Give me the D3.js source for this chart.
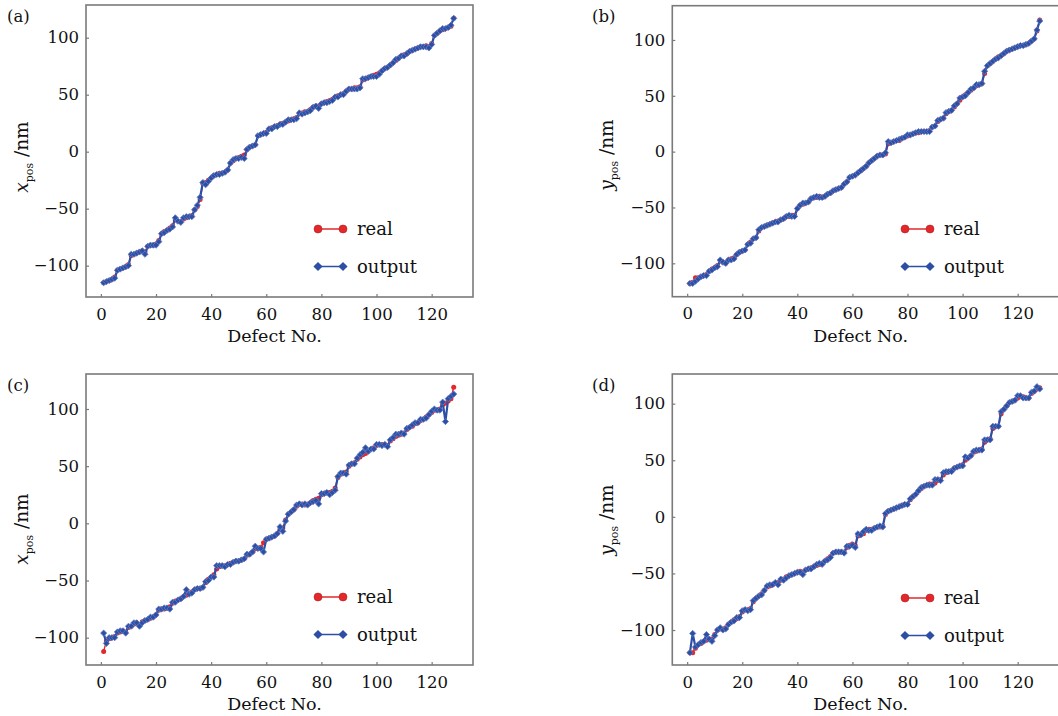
<!DOCTYPE html>
<html>
<head>
<meta charset="utf-8">
<script src="https://cdn.jsdelivr.net/npm/d3@7"></script>
<style>
  body { margin: 0; background: #fff; }
  svg { display: block; }
  text { font-family: "DejaVu Serif", serif; fill: #111; }
</style>
</head>
<body>
<svg width="1058" height="716"></svg>
<script>
// tick values
const xTicks = [0, 20, 40, 60, 80, 100, 120];
const yTicks = [-100, -50, 0, 50, 100];
const panelNames = ['(a)', '(b)', '(c)', '(d)'];
const seriesNames = ['real', 'output'];

// (a) x position
const realA = [-115,-114,-113,-112,-110,-104,-103,-102,-101,-99,-91,-90,-89,-88,-87,-88,-83,-82,-82,-81,
  -78,-72,-70,-69,-67,-65,-60,-61,-61,-59,-58,-57,-56,-51,-48,-42,-28,-27,-25,-23,
  -21,-20,-19,-19,-18,-16,-10,-8,-6,-5,-4,-3,2,4,5,6,14,15,16,17,
  20,21,22,23,24,25,26,27,28,29,30,33,34,35,35,37,39,40,40,42,
  43,44,45,46,48,49,50,51,53,55,55,56,56,57,63,64,65,66,67,68,
  69,71,73,74,76,78,80,82,84,85,86,88,89,90,91,92,92,93,92,95,
  102,104,106,107,108,109,110,117];
const outA = [-115,-114,-113,-112,-111,-104,-103,-102,-101,-100,-90,-90,-89,-88,-87,-90,-83,-82,-82,-82,
  -79,-72,-71,-69,-68,-66,-58,-61,-62,-58,-57,-57,-57,-51,-47,-40,-27,-29,-26,-23,
  -21,-20,-20,-19,-18,-16,-10,-7,-6,-6,-5,-6,2,4,5,6,14,15,16,16,
  20,20,22,22,24,24,26,28,28,28,29,34,33,34,35,36,39,40,38,42,
  43,43,44,45,48,48,50,50,53,55,55,55,55,56,64,64,65,66,66,66,
  68,71,73,74,76,78,81,82,84,84,86,88,89,90,91,92,92,92,91,94,
  102,104,106,108,108,109,111,117];

// (b) y position
const realB = [-118,-117,-113,-113,-112,-111,-110,-107,-105,-104,-102,-98,-99,-100,-97,-96,-95,-92,-90,-89,
  -88,-83,-81,-78,-77,-71,-68,-67,-66,-65,-64,-63,-62,-61,-60,-58,-58,-57,-57,-51,
  -48,-47,-46,-45,-42,-41,-41,-40,-41,-40,-38,-37,-35,-34,-33,-32,-29,-27,-23,-22,
  -21,-19,-17,-15,-13,-10,-8,-6,-4,-3,-3,-2,7,8,9,10,10,12,13,14,
  15,16,17,17,18,18,18,19,22,23,27,29,30,34,36,37,40,43,46,49,
  51,53,55,57,59,60,61,70,77,79,81,83,85,86,88,90,91,92,93,94,
  95,95,96,97,99,101,108,118];
const outB = [-118,-118,-116,-114,-112,-111,-111,-107,-106,-104,-103,-97,-99,-100,-97,-97,-96,-92,-90,-89,
  -88,-83,-82,-78,-77,-70,-68,-67,-66,-65,-64,-63,-63,-61,-60,-58,-57,-58,-58,-51,
  -48,-46,-46,-45,-42,-41,-40,-41,-41,-40,-38,-37,-35,-34,-33,-32,-29,-27,-23,-22,
  -21,-19,-17,-15,-13,-10,-8,-6,-4,-3,-3,-1,9,8,9,10,11,12,13,15,
  15,16,17,18,18,18,18,18,22,23,28,29,30,35,36,37,41,43,48,49,
  50,53,56,57,60,60,61,72,77,79,81,83,84,86,88,90,91,92,93,94,
  95,95,96,97,99,101,109,117];

// (c) x position
const realC = [-112,-103,-101,-100,-99,-96,-95,-94,-95,-91,-90,-88,-87,-89,-86,-85,-84,-83,-82,-80,
  -76,-75,-75,-74,-73,-70,-68,-67,-66,-64,-63,-61,-60,-58,-57,-57,-56,-52,-49,-47,
  -45,-40,-38,-37,-37,-36,-35,-34,-33,-33,-32,-31,-28,-27,-25,-22,-22,-21,-17,-14,
  -13,-12,-11,-9,-5,-4,3,8,10,12,15,17,17,16,17,18,20,21,22,25,
  26,27,27,28,31,40,43,44,45,50,52,53,56,58,60,61,63,65,66,68,
  69,69,69,68,72,74,76,77,78,79,82,84,85,87,88,90,91,93,95,97,
  99,99,100,104,105,107,109,119];
const outC = [-96,-105,-100,-100,-100,-95,-94,-94,-96,-90,-90,-87,-87,-90,-87,-85,-84,-82,-82,-80,
  -75,-75,-74,-74,-75,-69,-69,-67,-66,-64,-58,-62,-61,-58,-57,-57,-56,-51,-50,-47,
  -47,-37,-37,-37,-38,-36,-36,-34,-33,-33,-32,-31,-27,-27,-25,-20,-22,-22,-25,-14,
  -13,-12,-11,-9,-3,-7,2,8,10,12,16,17,16,17,16,18,19,20,17,26,
  26,27,25,27,29,41,44,44,43,51,52,52,57,60,62,66,63,65,65,69,
  69,68,69,67,73,75,78,78,79,78,83,84,86,88,88,91,91,92,95,98,
  100,99,99,106,89,109,111,113];

// (d) y position
const realD = [-120,-120,-116,-113,-112,-110,-109,-108,-108,-104,-100,-99,-99,-98,-95,-93,-91,-90,-88,-84,
  -82,-82,-81,-75,-72,-70,-68,-65,-62,-61,-60,-59,-58,-56,-55,-53,-52,-51,-50,-49,
  -48,-49,-47,-46,-45,-44,-43,-42,-41,-39,-37,-35,-32,-31,-31,-31,-31,-27,-25,-24,
  -25,-17,-16,-15,-12,-11,-11,-10,-9,-9,-8,2,5,6,7,8,9,10,11,11,
  15,18,20,23,25,27,28,29,29,30,32,33,37,39,40,41,43,44,45,46,
  50,52,54,57,58,59,60,66,68,69,78,80,80,91,95,98,101,102,103,105,
  106,106,105,105,109,111,113,114];
const outD = [-120,-103,-115,-113,-111,-110,-104,-108,-110,-105,-100,-98,-100,-99,-95,-93,-92,-89,-89,-83,
  -82,-83,-82,-74,-72,-70,-69,-65,-61,-60,-60,-58,-60,-55,-56,-54,-52,-51,-50,-49,
  -49,-51,-47,-46,-46,-44,-42,-41,-42,-39,-38,-36,-32,-31,-31,-31,-32,-26,-26,-25,
  -27,-15,-16,-13,-11,-12,-12,-10,-9,-8,-9,3,5,6,7,8,9,10,11,11,
  16,18,20,23,26,27,28,28,28,33,33,32,39,40,40,40,43,44,45,45,
  53,52,54,58,59,59,59,68,68,68,80,80,80,93,95,98,101,102,103,107,
  107,105,105,105,110,111,115,113];

const svg = d3.select('svg');
const red = '#e3272b', blue = '#2c4fa5', frameCol = '#7a7a7a';

// frame boxes and where the labels sit, per panel
const panels = [
  { L: 86, R: 473, T: 5, B: 297, yDom: [-127.5, 128.7], real: realA, out: outA, ysym: 'x',
    name: [7, 22], leg: [318, 229], lab: [28, 157] },
  { L: 672.3, R: 1059, T: 5.7, B: 296.7, yDom: [-129.9, 130.7], real: realB, out: outB, ysym: 'y',
    name: [592, 22], leg: [905, 229], lab: [613, 155] },
  { L: 86, R: 473, T: 374, B: 665, yDom: [-123.9, 130.6], real: realC, out: outC, ysym: 'x',
    name: [7, 391], leg: [318, 597], lab: [28, 529] },
  { L: 672.3, R: 1059, T: 374, B: 665, yDom: [-130.9, 126.2], real: realD, out: outD, ysym: 'y',
    name: [592, 391], leg: [905, 598], lab: [613, 520] }
];

panels.forEach((p, i) => {
  const g = svg.append('g');
  const x = d3.scaleLinear().domain([-5.4, 135]).range([p.L, p.R]);
  const y = d3.scaleLinear().domain(p.yDom).range([p.B, p.T]);
  const idx = d3.range(1, p.real.length + 1);

  // axes, ticks point inward
  const xa = g.append('g').attr('transform', `translate(0,${p.B})`)
    .call(d3.axisBottom(x).tickValues(xTicks).tickSize(-3).tickPadding(11));
  const ya = g.append('g').attr('transform', `translate(${p.L},0)`)
    .call(d3.axisLeft(y).tickValues(yTicks).tickSize(-3).tickPadding(7));
  [xa, ya].forEach(a => {
    a.select('.domain').remove();
    a.selectAll('line').attr('stroke', frameCol).attr('stroke-width', 1.2);
    a.selectAll('text').style('font-size', '16.5px').attr('fill', '#111')
      .style('font-family', '"DejaVu Serif", serif');
  });

  g.append('rect').attr('x', p.L).attr('y', p.T)
    .attr('width', p.R - p.L).attr('height', p.B - p.T)
    .attr('fill', 'none').attr('stroke', frameCol).attr('stroke-width', 1.6);

  // series
  const line = vals => d3.line().x((d, k) => x(idx[k])).y(d => y(d))(vals);
  g.append('path').attr('d', line(p.real)).attr('fill', 'none')
    .attr('stroke', red).attr('stroke-width', 1.4);
  g.selectAll('circle.r').data(p.real).join('circle')
    .attr('cx', (d, k) => x(idx[k])).attr('cy', d => y(d)).attr('r', 2.5).attr('fill', red);
  g.append('path').attr('d', line(p.out)).attr('fill', 'none')
    .attr('stroke', blue).attr('stroke-width', 2.2);
  const sq = d3.symbol().type(d3.symbolSquare).size(19);
  g.selectAll('path.o').data(p.out).join('path')
    .attr('d', sq).attr('fill', blue).attr('stroke', '#5f7cc4').attr('stroke-width', 0.8)
    .attr('transform', (d, k) => `translate(${x(idx[k])},${y(d)}) rotate(45)`);

  // x label
  g.append('text').attr('x', x(63)).attr('y', p.B + 45).attr('text-anchor', 'middle')
    .style('font-size', '17.5px').text('Defect No.');

  // y label
  const yl = g.append('text').attr('transform', `translate(${p.lab[0]},${p.lab[1]}) rotate(-90)`)
    .attr('text-anchor', 'middle').style('font-size', '18.5px');
  yl.append('tspan').style('font-style', 'italic').text(p.ysym);
  yl.append('tspan').attr('dy', 5).style('font-size', '11px').text('pos');
  yl.append('tspan').attr('dy', -5).text(' /nm');

  // panel name
  g.append('text').attr('x', p.name[0]).attr('y', p.name[1])
    .style('font-size', '16.5px').text(panelNames[i]);

  // legend
  const [lx, ly] = p.leg;
  seriesNames.forEach((s, j) => {
    const yy = ly + j * 37.5;
    const c = j === 0 ? red : blue;
    g.append('line').attr('x1', lx).attr('x2', lx + 25).attr('y1', yy).attr('y2', yy)
      .attr('stroke', c).attr('stroke-width', 1.5);
    [lx, lx + 25].forEach(mx => {
      if (j === 0) {
        g.append('circle').attr('cx', mx).attr('cy', yy).attr('r', 4).attr('fill', red)
          .attr('stroke', '#b02020').attr('stroke-width', 0.6);
      } else {
        g.append('path').attr('d', d3.symbol().type(d3.symbolSquare).size(42))
          .attr('fill', blue).attr('transform', `translate(${mx},${yy}) rotate(45)`);
      }
    });
    g.append('text').attr('x', lx + 39).attr('y', yy + 6)
      .style('font-size', '18px').text(s);
  });
});
</script>
</body>
</html>
